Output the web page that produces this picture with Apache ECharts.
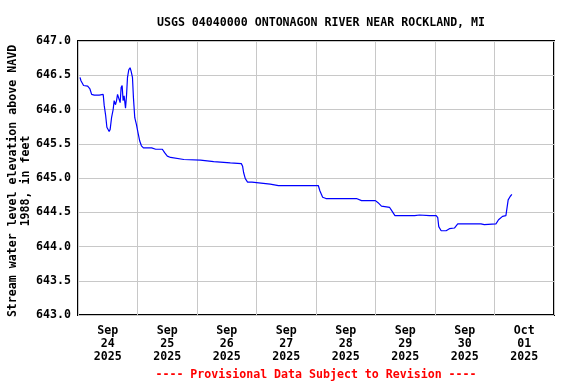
<!DOCTYPE html>
<html>
<head>
<meta charset="utf-8">
<script src="https://cdn.jsdelivr.net/npm/echarts@6/dist/echarts.min.js"></script>
<style>html,body{margin:0;padding:0;background:#fff}#c{width:576px;height:384px}</style>
</head>
<body>
<div id="c"></div>
<script>
var titleText = 'USGS 04040000 ONTONAGON RIVER NEAR ROCKLAND, MI';
var yAxisName = 'Stream water level elevation above NAVD\n1988, in feet';
var footerText = '---- Provisional Data Subject to Revision ----';
var xStart = '2025-09-24 00:00';
var xEnd = '2025-10-02 00:00';
var dayLabels = ['2025-09-24 12:00','2025-09-25 12:00','2025-09-26 12:00','2025-09-27 12:00','2025-09-28 12:00','2025-09-29 12:00','2025-09-30 12:00','2025-10-01 12:00'];
var yTicks = [643.0, 643.5, 644.0, 644.5, 645.0, 645.5, 646.0, 646.5, 647.0];

var times = [
'2025-09-24 00:48','2025-09-24 01:12','2025-09-24 02:15','2025-09-24 03:54','2025-09-24 04:49','2025-09-24 05:30',
'2025-09-24 06:33','2025-09-24 08:33','2025-09-24 09:14','2025-09-24 10:10','2025-09-24 10:34','2025-09-24 11:08',
'2025-09-24 11:39','2025-09-24 12:34','2025-09-24 12:58','2025-09-24 13:32','2025-09-24 14:11','2025-09-24 14:35',
'2025-09-24 15:08','2025-09-24 15:33','2025-09-24 15:57','2025-09-24 16:35','2025-09-24 17:00','2025-09-24 17:24',
'2025-09-24 17:48','2025-09-24 18:12','2025-09-24 18:36','2025-09-24 19:10','2025-09-24 19:34','2025-09-24 19:58',
'2025-09-24 20:29','2025-09-24 21:00','2025-09-24 21:25','2025-09-24 21:58','2025-09-24 22:22','2025-09-24 22:54',
'2025-09-24 23:35','2025-09-25 00:13','2025-09-25 00:54','2025-09-25 01:35','2025-09-25 02:23','2025-09-25 05:43',
'2025-09-25 07:20','2025-09-25 10:01','2025-09-25 10:56','2025-09-25 12:02','2025-09-25 13:21','2025-09-25 18:42',
'2025-09-26 01:24','2025-09-26 06:45','2025-09-26 13:27','2025-09-26 17:52','2025-09-26 18:24','2025-09-26 18:48',
'2025-09-26 19:29','2025-09-26 20:24','2025-09-26 22:10','2025-09-26 22:49','2025-09-27 05:31','2025-09-27 08:52',
'2025-09-28 00:55','2025-09-28 01:36','2025-09-28 02:41','2025-09-28 04:01','2025-09-28 12:58','2025-09-28 16:20',
'2025-09-28 18:21','2025-09-28 20:22','2025-09-28 23:59','2025-09-29 01:02','2025-09-29 02:24','2025-09-29 05:43',
'2025-09-29 06:48','2025-09-29 07:51','2025-09-29 09:44','2025-09-29 15:46','2025-09-29 17:46','2025-09-29 21:47',
'2025-09-30 00:29','2025-09-30 01:07','2025-09-30 01:31','2025-09-30 02:29','2025-09-30 04:29','2025-09-30 05:49',
'2025-09-30 07:50','2025-09-30 09:10','2025-09-30 18:33','2025-09-30 19:53','2025-10-01 00:35','2025-10-01 01:38',
'2025-10-01 03:14','2025-10-01 04:36','2025-10-01 05:14','2025-10-01 05:31','2025-10-01 06:19','2025-10-01 07:00'
];
var levels = [
646.47,646.42,646.35,646.34,646.30,646.22,
646.21,646.21,646.23,646.22,646.06,645.92,
645.74,645.68,645.71,645.88,646.00,646.13,
646.07,646.13,646.22,646.23,646.10,646.32,
646.35,646.13,646.20,646.02,646.20,646.47,
646.58,646.61,646.56,646.47,646.17,645.88,
645.78,645.66,645.54,645.47,645.44,645.44,
645.42,645.42,645.37,645.32,645.30,645.27,
645.26,645.24,645.22,645.21,645.17,645.08,
644.99,644.94,644.94,644.92,644.91,644.89,
644.89,644.81,644.72,644.70,644.70,644.70,
644.67,644.67,644.67,644.64,644.59,644.57,
644.51,644.45,644.45,644.45,644.46,644.45,
644.45,644.42,644.29,644.23,644.23,644.26,
644.27,644.33,644.33,644.32,644.33,644.39,
644.44,644.45,644.45,644.68,644.73,644.76
];

var DAY = 86400000;
function ts(s){ var p = s.split(/[- :]/); return Date.UTC(+p[0], +p[1]-1, +p[2], +p[3], +p[4]); }
var months = ['Jan','Feb','Mar','Apr','May','Jun','Jul','Aug','Sep','Oct','Nov','Dec'];
var FONT = '"DejaVu Sans Mono", monospace';
var FS = 11.6;

var data = times.map(function(t,i){ return [ts(t), levels[i]]; });

var chart = echarts.init(document.getElementById('c'), null, {renderer:'canvas'});
chart.setOption({
  animation:false,
  backgroundColor:'#fff',
  title:{text:titleText, left:316, top:12, textAlign:'center',
    textStyle:{fontFamily:FONT, fontSize:FS, fontWeight:'bold', color:'#000'}},
  grid:{left:78, right:22, top:41, bottom:69, containLabel:false, outerBoundsMode:'none',
    show:true, borderColor:'#000', borderWidth:2, backgroundColor:'transparent'},
  xAxis:[{type:'value', min:ts(xStart), max:ts(xEnd), interval:DAY,
    axisLine:{show:false}, axisTick:{show:false}, axisLabel:{show:false},
    splitLine:{show:true, lineStyle:{color:'#c8c8c8', width:1}}
  },{type:'value', min:ts(xStart), max:ts(xEnd), position:'bottom',
    axisLine:{show:false}, axisTick:{show:false}, splitLine:{show:false},
    axisLabel:{customValues:dayLabels.map(ts), margin:9, fontFamily:FONT, fontSize:FS, fontWeight:'bold', color:'#000', lineHeight:13,
      formatter:function(v){ var d=new Date(v); var dd=d.getUTCDate(); return months[d.getUTCMonth()]+'\n'+(dd<10?'0'+dd:dd)+'\n'+d.getUTCFullYear(); }}
  }],
  yAxis:{type:'value', min:yTicks[0], max:yTicks[yTicks.length-1], interval:0.5,
    axisLine:{show:false}, axisTick:{show:false},
    splitLine:{show:true, lineStyle:{color:'#c8c8c8', width:1}},
    axisLabel:{margin:7, fontFamily:FONT, fontSize:FS, fontWeight:'bold', color:'#000', formatter:function(v){return v.toFixed(1);}}
  },
  graphic:[
    {type:'text', x:316, y:369, style:{text:footerText, textAlign:'center', textVerticalAlign:'top', fill:'#ff0000', font:'bold '+FS+'px '+FONT}},
    {type:'text', x:19, y:181, rotation:Math.PI/2, style:{text:yAxisName, textAlign:'center', textVerticalAlign:'middle', lineHeight:13, fill:'#000', font:'bold '+FS+'px '+FONT}}
  ],
  series:[{type:'line', xAxisIndex:0, data:data, showSymbol:false, symbol:'none', smooth:false,
    lineStyle:{color:'#0000ff', width:1.2}, itemStyle:{color:'#0000ff'}}]
});
</script>
</body>
</html>
